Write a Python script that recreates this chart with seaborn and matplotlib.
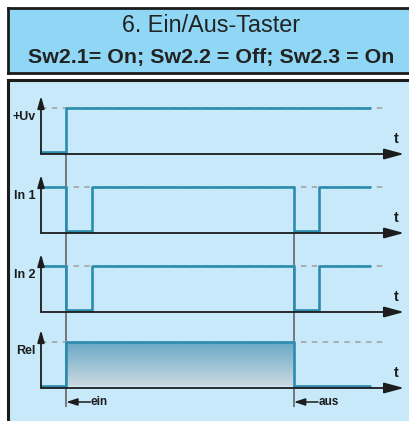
import numpy as np
import seaborn as sns
import matplotlib.pyplot as plt
from matplotlib.colors import LinearSegmentedColormap

# --- chart content -------------------------------------------------------
title_top = "6. Ein/Aus-Taster"
title_sub = "Sw2.1= On; Sw2.2 = Off; Sw2.3 = On"

signal_names = ["+Uv", "In 1", "In 2", "Rel"]
times = [0, 1, 2, 10, 11, 13]
uv_levels = [0, 1, 1, 1, 1, 1]
in1_levels = [1, 0, 1, 0, 1, 1]
in2_levels = [1, 0, 1, 0, 1, 1]
rel_levels = [0, 1, 1, 0, 0, 0]
t_ein = 1
t_aus = 10
marker_labels = ["ein", "aus"]
dash_end = 13.5

# --- layout (pixels) -------------------------------------------------------
W, H = 409, 421
X0 = 41            # time origin
PX_T = 25.3        # pixels per time unit
PX_L = 44          # pixels per level unit
BASE = [154, 233, 312, 388]   # baseline of each trace
YLO, YHI = -0.04, 1.28
T_MAX = (W - X0) / PX_T
T_ARROW = (404 - X0) / PX_T

SIG = "#2b8cae"
DASH = "#a9a9a9"
AX = "#1c1c1c"
PANEL = "#c7e9f9"
TITLE_BG = "#8fd7f5"

sns.set_theme(style="white")
plt.rcParams['font.family'] = ['Liberation Sans', 'DejaVu Sans']
narrow = ['Liberation Sans Narrow', 'Liberation Sans', 'DejaVu Sans']

fig = plt.figure(figsize=(W / 100, H / 100), dpi=100)
fig.patch.set_facecolor("white")

# title box
tb = fig.add_axes([8 / W, (H - 73) / H, 1.2, 65 / H])
tb.set_facecolor(TITLE_BG)
tb.set_xticks([]); tb.set_yticks([])
for s in tb.spines.values():
    s.set_color(AX); s.set_linewidth(2)
tx = (211 - 8) / (1.2 * W)
tb.text(tx, 0.73, title_top, transform=tb.transAxes, ha="center",
        va="center", fontsize=16.8, color="#222222")
tb.text(tx, 0.245, title_sub, transform=tb.transAxes, ha="center",
        va="center", fontsize=15.4, fontweight="bold", color="#222222")

# diagram panel
bg = fig.add_axes([8 / W, -0.1, 1.2, (H - 80) / H + 0.1])
bg.set_facecolor(PANEL)
bg.set_xticks([]); bg.set_yticks([])
for k, s in bg.spines.items():
    if k in ("left", "top"):
        s.set_color(AX); s.set_linewidth(2.2)
    else:
        s.set_visible(False)
bg.set_zorder(-5)

levels_all = [uv_levels, in1_levels, in2_levels, rel_levels]
axes = []
for i, (name, lev, base) in enumerate(zip(signal_names, levels_all, BASE)):
    ax = fig.add_axes([X0 / W, (H - base) / H, (W - X0) / W, (YHI - YLO) * PX_L / H])
    ax.set_facecolor("none")
    ax.set_zorder(0 if i == 3 else 1)

    # dashed reference at high level
    ax.plot([0, dash_end], [1, 1], color=DASH, lw=1.3, ls=(0, (3, 3)), zorder=1,
            clip_on=False)

    if i == 3:
        cmap = LinearSegmentedColormap.from_list("rel", ["#cbd8e0", "#6aa9c7"])
        grad = np.linspace(0, 1, 100).reshape(-1, 1)
        ax.imshow(grad, extent=(t_ein, t_aus, 0, 1), origin="lower", aspect="auto",
                  cmap=cmap, zorder=0.5)

    sns.lineplot(x=times, y=lev, drawstyle="steps-post", color=SIG, lw=1.9,
                 estimator=None, ax=ax, legend=False, zorder=3)
    for ln in ax.lines:
        ln.set_clip_on(False)

    # axes arrows
    ax.annotate("", xy=(0, YHI), xytext=(0, YLO), annotation_clip=False,
                arrowprops=dict(arrowstyle="-|>,head_length=0.6,head_width=0.17",
                                color=AX, lw=1.3, shrinkA=0, shrinkB=0))
    ax.annotate("", xy=(T_ARROW, YLO), xytext=(0, YLO), annotation_clip=False,
                arrowprops=dict(arrowstyle="-|>,head_length=1.0,head_width=0.27",
                                color=AX, lw=1.3, shrinkA=0, shrinkB=0))
    ax.text(14.05, 0.3, "t", ha="center", va="center", fontsize=10.5,
            fontweight="bold", color=AX, family=narrow)
    ax.text(-0.2, 0.8, name, ha="right", va="center", fontsize=9,
            fontweight="bold", color=AX, family=narrow)

    ax.set_xlim(0, T_MAX)
    ax.set_ylim(YLO, YHI)
    ax.axis("off")
    axes.append(ax)

# switch markers (drawn in the relay axes, reaching up to the traces above)
rel_ax = axes[3]
bottom = YLO - (407 - BASE[3]) / PX_L
top_ein = YLO + (BASE[3] - BASE[0]) / PX_L
top_aus = YLO + (BASE[3] - BASE[1]) / PX_L
rel_ax.vlines([t_ein, t_aus], bottom, [top_ein, top_aus], color="#5a5a5a", lw=1.1,
              zorder=0.4, clip_on=False)
y_mark = YLO - (402 - BASE[3]) / PX_L
for t0, lab in zip([t_ein, t_aus], marker_labels):
    rel_ax.annotate("", xy=(t0, y_mark), xytext=(t0 + 0.95, y_mark),
                    annotation_clip=False,
                    arrowprops=dict(arrowstyle="-|>,head_length=0.55,head_width=0.18",
                                    color=AX, lw=1.1, shrinkA=0, shrinkB=0))
    rel_ax.text(t0 + 0.97, y_mark, lab, ha="left", va="center", fontsize=8.5,
                fontweight="bold", color=AX, family=narrow)

fig.savefig("out.png", dpi=100)
